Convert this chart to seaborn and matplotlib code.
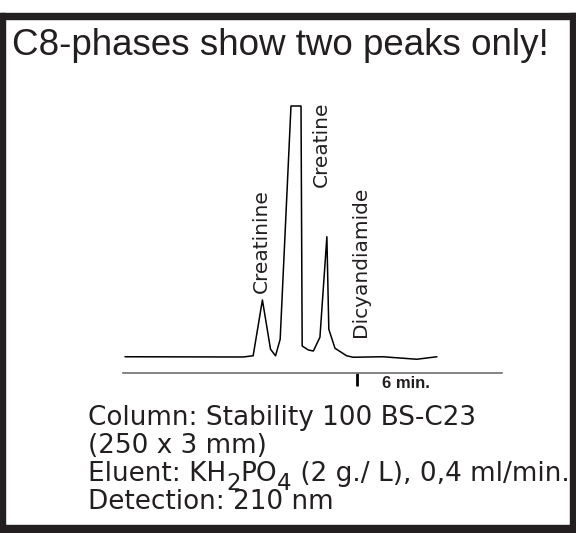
import matplotlib
matplotlib.use("Agg")
import matplotlib.pyplot as plt
import seaborn as sns
import pandas as pd
from matplotlib.patches import Rectangle

# Chromatogram trace: retention time (min) and detector signal (a.u., saturated at 100)
time_min = [0.00, 3.06, 3.32, 3.56, 3.77, 3.90, 4.02, 4.30, 4.56, 4.59, 4.75, 4.88,
            5.05, 5.23, 5.28, 5.44, 5.74, 5.91, 6.68, 7.56, 8.08]
signal = [0.1, 0.0, 0.5, 22.8, 3.1, 0.5, 7.1, 100.4, 100.4, 4.4, 2.8, 2.4,
          7.9, 48.1, 11.1, 3.5, 0.5, -0.1, 0.1, -0.9, 0.1]

# Peak labels: name, retention time, signal level where the label starts
peak_names = ["Creatinine", "Creatine", "Dicyandiamide"]
peak_times = [3.54, 5.10, 6.09]
peak_label_base = [25.6, 68.0, 8.1]

title = "C8-phases show two peaks only!"
marker_time = 6
marker_label = "6 min."

W, H = 576, 533
sns.set_theme(style="white")
plt.rcParams["font.family"] = ["DejaVu Sans"]

fig = plt.figure(figsize=(W / 100, H / 100), dpi=100)
fig.patch.set_facecolor("white")


def fx(x):
    return x / W


def fy(y):
    return 1 - y / H


# Thick dark frame
frame_col = "#231f20"
for (x0, y0, x1, y1) in [(0, 13, 576, 19), (0, 13, 4.5, 533), (570, 13, 576, 533), (0, 525, 576, 533)]:
    fig.patches.append(Rectangle((fx(x0), fy(y1)), fx(x1) - fx(x0), fy(y0) - fy(y1),
                                 transform=fig.transFigure, color=frame_col, zorder=0))

# Title
fig.text(fx(12), fy(55), title, family=["Liberation Sans", "DejaVu Sans"], fontsize=26.5,
         color="#231f20", va="baseline", ha="left")

# Chromatogram axes
ax_left, ax_right, ax_bottom, ax_top = 123, 502, 373.3, 100
ax = fig.add_axes([fx(ax_left), fy(ax_bottom), (ax_right - ax_left) / W, (ax_bottom - ax_top) / H])
ax.set_facecolor("none")
df = pd.DataFrame({"time": time_min, "signal": signal})
sns.lineplot(data=df, x="time", y="signal", ax=ax, color="black", linewidth=1.1,
             sort=False, estimator=None)
px_per_min = 38.6
ax.set_xlim((ax_left - 125) / px_per_min, (ax_right - 125) / px_per_min)
ax.set_ylim((357 - ax_bottom) / 2.5, (357 - ax_top) / 2.5)
for s in ["top", "left", "right"]:
    ax.spines[s].set_visible(False)
ax.spines["bottom"].set_color("#6e6e6e")
ax.spines["bottom"].set_linewidth(1.2)
ax.set_xlabel("")
ax.set_ylabel("")
ax.set_yticks([])
ax.set_xticks([marker_time])
ax.set_xticklabels([""])
ax.tick_params(axis="x", direction="out", length=9, width=2, color="black", bottom=True)
ax.text(marker_time + 0.65, -0.039, marker_label, transform=ax.get_xaxis_transform(),
        family=["Liberation Sans Narrow", "Liberation Sans", "DejaVu Sans"], fontweight="bold",
        fontsize=12, va="center", ha="left", color="#231f20")

for name, t, base in zip(peak_names, peak_times, peak_label_base):
    ax.text(t, base, name, rotation=90, ha="center", va="bottom", fontsize=14.5,
            color="#231f20", clip_on=False)

# Method details
overlay = fig.add_axes([0, 0, 1, 1])
overlay.set_axis_off()
overlay.set_xlim(0, W)
overlay.set_ylim(H, 0)
tkw = dict(fontsize=18.9, color="#231f20", family=["DejaVu Sans"])
overlay.text(88, 425, "Column: Stability 100 BS-C23", va="baseline", **tkw)
overlay.text(88, 453, "(250 x 3 mm)", va="baseline", **tkw)
overlay.text(88, 509, "Detection: 210 nm", va="baseline", **tkw)

# Eluent line with lowered subscripts
sub_kw = dict(tkw, fontsize=16.5)
pieces = [("Eluent: KH", 0, tkw), ("2", -5.5, sub_kw), ("PO", 0, tkw), ("4", -5.5, sub_kw),
          (" (2 g./ L), 0,4 ml/min.", 0, tkw)]
prev = overlay.text(88, 481, pieces[0][0], va="baseline", **pieces[0][2])
prev_shift = 0
for txt, shift, kw in pieces[1:]:
    prev = overlay.annotate(txt, xy=(1, 0), xycoords=prev, xytext=(0, shift - prev_shift),
                            textcoords="offset points", va="bottom", ha="left",
                            annotation_clip=False, **kw)
    prev_shift = shift

fig.savefig("out.png", dpi=100, facecolor="white")
